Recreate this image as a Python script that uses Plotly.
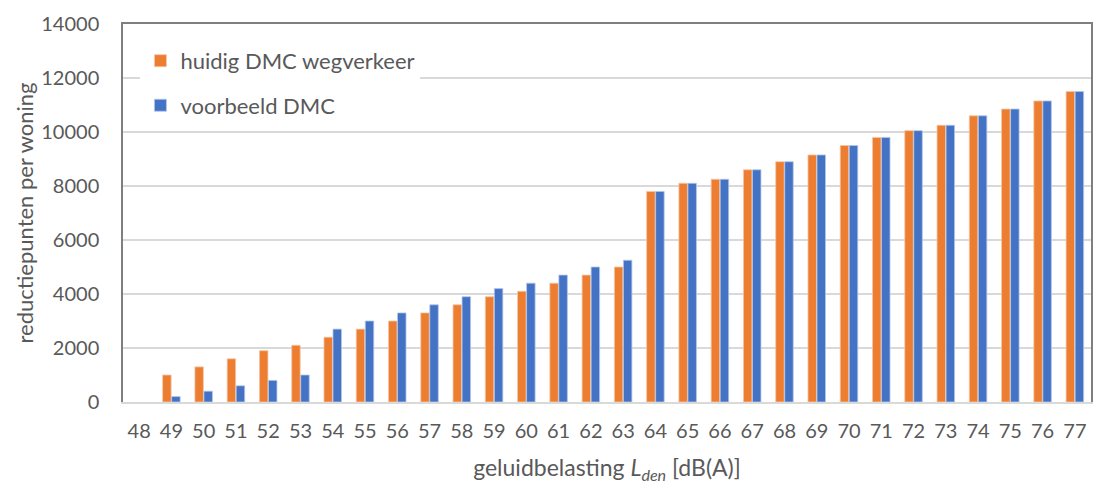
import plotly.graph_objects as go

categories = [str(v) for v in range(48, 78)]
huidig = [None, 1000, 1300, 1600, 1900, 2100, 2400, 2700, 3000, 3300, 3600, 3900, 4100, 4400, 4700, 5000,
          7800, 8100, 8250, 8600, 8900, 9150, 9500, 9800, 10050, 10250, 10600, 10850, 11150, 11500]
voorbeeld = [None, 200, 400, 600, 800, 1000, 2700, 3000, 3300, 3600, 3900, 4200, 4400, 4700, 5000, 5250,
             7800, 8100, 8250, 8600, 8900, 9150, 9500, 9800, 10050, 10250, 10600, 10850, 11150, 11500]
y_ticks = [0, 2000, 4000, 6000, 8000, 10000, 12000, 14000]

FONT = "Lato"
GRAY = "#595959"
FRAME = "#7F7F7F"

fig = go.Figure()
fig.add_trace(go.Bar(x=categories, y=huidig, name="huidig DMC wegverkeer",
                     marker=dict(color="#ED7D31", line=dict(color="#F4C6A5", width=0.8)),
                     legendgroup="a"))
fig.add_trace(go.Bar(x=categories, y=voorbeeld, name="voorbeeld DMC",
                     marker=dict(color="#4472C4", line=dict(color="#B4C7E7", width=0.8)),
                     legendgroup="b"))
# invisible helper trace so the top frame axis gets drawn
fig.add_trace(go.Scatter(x=categories, y=[None] * len(categories), xaxis="x2",
                         mode="lines", showlegend=False, hoverinfo="skip"))

fig.update_layout(
    width=1093, height=484,
    margin=dict(l=123, r=2, t=24, b=82, autoexpand=False),
    paper_bgcolor="white", plot_bgcolor="white",
    font=dict(family=FONT, size=20, color=GRAY),
    barmode="group", bargap=0.44, bargroupgap=0.06,
    showlegend=True,
    legend=dict(x=0.018, y=0.958, xanchor="left", yanchor="top",
                bgcolor="white", font=dict(size=22, color=GRAY),
                tracegroupgap=13, itemwidth=30),
    xaxis=dict(type="category", categoryorder="array", categoryarray=categories,
               automargin=False,
               showline=True, linecolor="#D9D9D9", linewidth=1.5,
               ticks="outside", ticklen=10, tickcolor="rgba(0,0,0,0)",
               tickfont=dict(size=20, color=GRAY),
               title=dict(text="geluidbelasting <i>L</i><sub><i>den</i></sub> [dB(A)]",
                          font=dict(size=23, color=GRAY), standoff=19)),
    xaxis2=dict(overlaying="x", side="top", anchor="y", type="category",
                showline=True, linecolor=FRAME, linewidth=1.5,
                showticklabels=False, showgrid=False, zeroline=False, ticks="",
                automargin=False),
    yaxis=dict(range=[0, 14000], tickvals=y_ticks, ticktext=[str(v) for v in y_ticks],
               automargin=False,
               showgrid=True, gridcolor="#D9D9D9", gridwidth=1.5,
               showline=True, linecolor=FRAME, linewidth=1.5, mirror=True,
               zeroline=False,
               ticks="outside", ticklen=18, tickcolor="rgba(0,0,0,0)",
               tickfont=dict(size=20, color=GRAY),
               title=dict(text="reductiepunten per woning", font=dict(size=22, color=GRAY), standoff=2)),
)

fig.write_html("out.html", config={"displayModeBar": False},
               post_script="document.body.style.margin='0';")
